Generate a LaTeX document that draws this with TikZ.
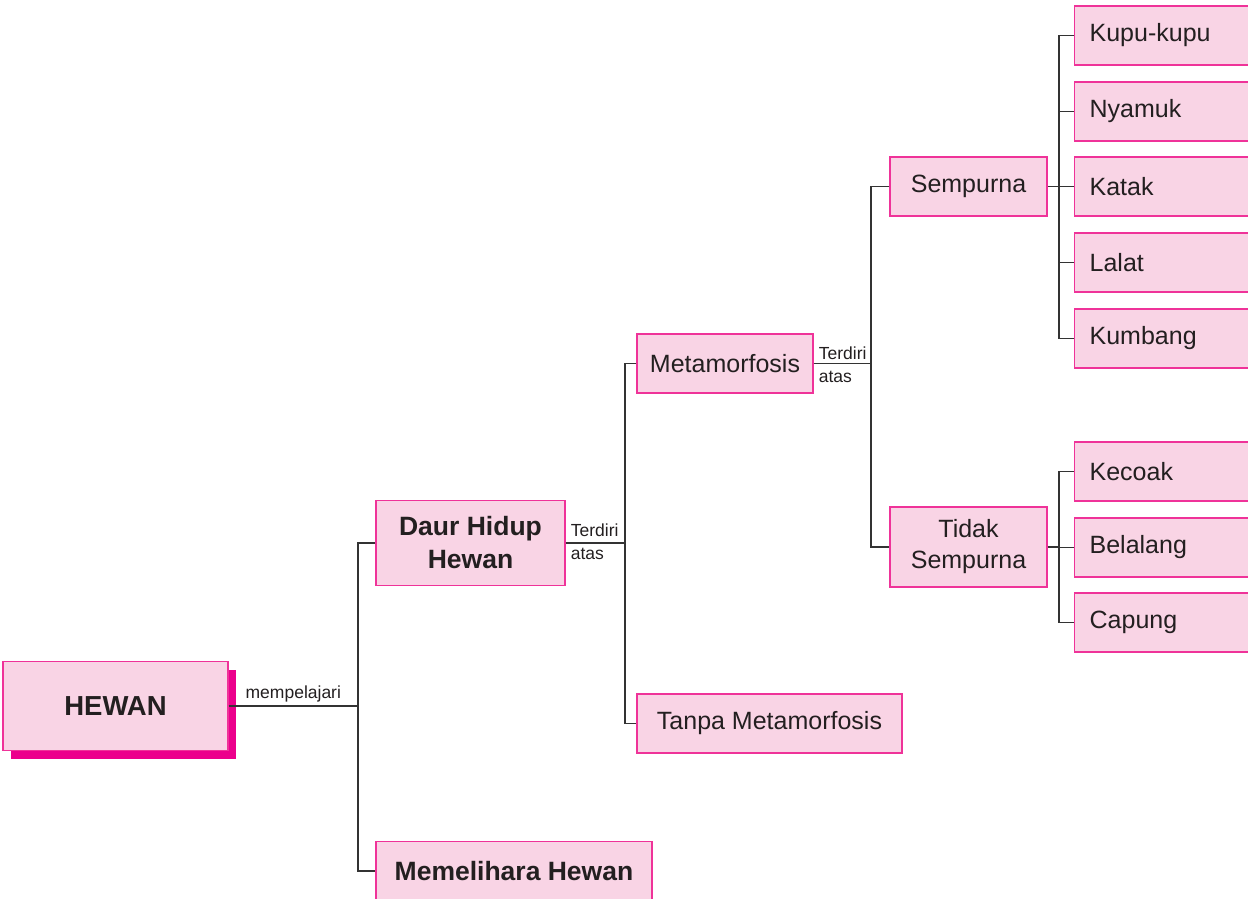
\documentclass[tikz,border=0pt]{standalone}
\usepackage{fontspec}
\setmainfont{Liberation Sans}
\usetikzlibrary{shadows}
\definecolor{boxfill}{HTML}{F9D4E5}
\definecolor{boxline}{HTML}{EF3399}
\definecolor{shade}{HTML}{EC008C}
\definecolor{ink}{HTML}{231F20}
\definecolor{wire}{HTML}{333333}
\begin{document}
\begin{tikzpicture}
[x=1pt,y=-1pt,
  boxdecorate/.style={shape=rectangle,draw=boxline,fill=boxfill,line width=1.3pt,
    inner sep=0pt,align=center,text=ink,font=\fontsize{25}{31}\selectfont},
  bolddecorate/.style={boxdecorate,font=\fontsize{26.5}{33}\selectfont\bfseries},
  leafdecorate/.style={boxdecorate,anchor=west,minimum height=59pt,
    text width=150pt,inner xsep=15pt,align=left},
  labeldecorate/.style={text=ink,inner sep=0pt,align=left,
    font=\fontsize{17.5}{23}\selectfont},
  linedecorate/.style={-,draw=wire,line width=1.4pt}]
\path[use as bounding box,clip] (0,0) rectangle (1248,899);
%% main boxes
\node (hewan) at (115.5,706) [boxdecorate,minimum width=225pt,minimum height=89pt,
  font=\fontsize{27.5}{33}\selectfont\bfseries,
  general shadow={fill=shade,shadow xshift=8pt,shadow yshift=-8pt}] {HEWAN};
\node (daur) at (470.5,543) [bolddecorate,minimum width=189pt,minimum height=85pt] {Daur Hidup\\Hewan};
\node (pelihara) at (514,871) [bolddecorate,minimum width=276pt,minimum height=59pt] {Memelihara Hewan};
\node (meta) at (725,363.5) [boxdecorate,minimum width=176pt,minimum height=59pt] {Metamorfosis};
\node (tanpa) at (769.5,723.5) [boxdecorate,minimum width=265pt,minimum height=59pt] {Tanpa Metamorfosis};
\node (sempurna) at (968.5,186.5) [boxdecorate,minimum width=157pt,minimum height=59pt] {Sempurna};
\node (tidak) at (968.5,547) [boxdecorate,minimum width=157pt,minimum height=80pt] {Tidak\\Sempurna};
%% leaves
\foreach \nodename/\y/\word in {
  kupu/35.5/Kupu-kupu, nyamuk/111.5/Nyamuk, katak/186.5/Katak,
  lalat/262.5/Lalat, kumbang/338.5/Kumbang,
  kecoak/471.5/Kecoak, belalang/547.5/Belalang, capung/622.5/Capung}
{
  \node (\nodename) at (1074,\y) [leafdecorate] {\word};
}
%% junctions
\coordinate (j1) at (358,706);
\coordinate (j2) at (625,543);
\coordinate (j3) at (871,363.5);
\coordinate (j4) at (1059,186.5);
\coordinate (j5) at (1059,547);
%% edges or lines
\draw[linedecorate] (hewan.east |- j1) -- node[labeldecorate,above=3pt] {mempelajari} (j1);
\draw[linedecorate] (daur.west) -| (j1) |- (pelihara.west);
\draw[linedecorate] (daur.east) -- (j2);
\draw[linedecorate] (meta.west) -| (j2) |- (tanpa.west);
\draw[linedecorate] (meta.east) -- (j3);
\draw[linedecorate] (sempurna.west) -| (j3) |- (tidak.west);
\draw[linedecorate] (sempurna.east) -- (j4);
\draw[linedecorate] (kupu.west) -| (j4) |- (kumbang.west);
\draw[linedecorate] (tidak.east) -- (j5);
\draw[linedecorate] (kecoak.west) -| (j5) |- (capung.west);
\foreach \leaf in {nyamuk, katak, lalat}
  \draw[linedecorate] (\leaf.west) -- (\leaf.west -| j4);
\draw[linedecorate] (belalang.west) -- (belalang.west -| j5);
%% labels
\node (lbldaur) at ([xshift=5pt,yshift=1pt]daur.east) [labeldecorate,anchor=west] {Terdiri\\atas};
\node (lblmeta) at ([xshift=5pt,yshift=-1pt]meta.east) [labeldecorate,anchor=west] {Terdiri\\atas};
\end{tikzpicture}
\end{document}
